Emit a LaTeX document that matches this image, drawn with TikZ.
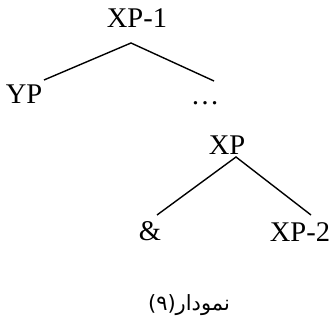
\documentclass[tikz,border=0pt]{standalone}
\usepackage{fontspec}
\setmainfont{Liberation Serif}
\newfontfamily\arabicfont[Script=Arabic]{DejaVu Sans}
\TeXXeTstate=1
\begin{document}
\begin{tikzpicture}[x=1pt,y=-1pt,
  lbl/.style={inner sep=0pt,anchor=base,font=\fontsize{28.5}{34}\selectfont},
  edge/.style={line width=1.4pt}]
\useasboundingbox (0,0) rectangle (332,320);
\node[lbl] (xp1) at (137,28) {XP-1};
\node[lbl] (yp) at (24,104) {YP};
\node[lbl] (dots) at (205,105) {\dots};
\node[lbl] (xp) at (227,155) {XP};
\node[lbl] (amp) at (150,241) {\&};
\node[lbl] (xp2) at (300,242) {XP-2};
\node[inner sep=0pt,anchor=base,font=\arabicfont\fontsize{21}{25}\selectfont] (cap) at (189,311) {\beginR نمودار(۹)\endR};
\coordinate (a1) at (131,43);
\coordinate (y1) at (44,80);
\coordinate (d1) at (214,81);
\coordinate (a2) at (236,157);
\coordinate (m1) at (157,215);
\coordinate (x2) at (311,215);
\draw[edge] (y1) -- (a1) -- (d1);
\draw[edge] (m1) -- (a2) -- (x2);
\end{tikzpicture}
\end{document}
